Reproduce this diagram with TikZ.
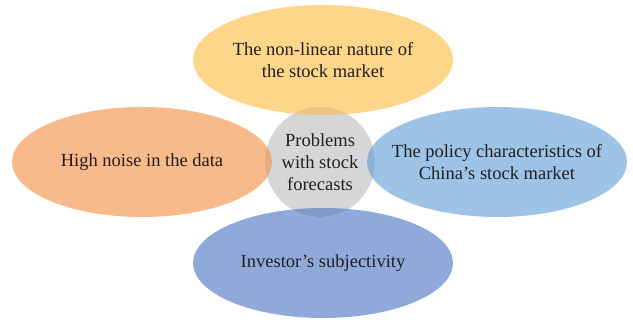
\documentclass[tikz,border=0pt]{standalone}
\usepackage{fontspec}
\setmainfont{Liberation Serif}
\usetikzlibrary{shapes.geometric}
\definecolor{yellowc}{RGB}{253,214,138}
\definecolor{orangec}{RGB}{248,186,138}
\definecolor{bluec}{RGB}{157,195,231}
\definecolor{navyc}{RGB}{143,170,218}
\definecolor{grayc}{RGB}{213,214,216}
\definecolor{txtc}{RGB}{35,31,32}
\definecolor{yellowov}{RGB}{233,198,130}
\definecolor{orangeov}{RGB}{229,172,130}
\definecolor{blueov}{RGB}{144,178,212}
\definecolor{navyov}{RGB}{130,154,202}
\tikzset{
  petal/.style={ellipse, draw=none, inner xsep=-30pt, inner ysep=-15pt, minimum width=260pt, minimum height=110pt,
    align=center, text=txtc, font=\fontsize{18.5}{22}\selectfont},
  hub/.style={circle, draw=none, fill=grayc, inner sep=0pt, minimum size=110pt,
    align=center, text=txtc, font=\fontsize{18.5}{22}\selectfont},
}
\begin{document}
\begin{tikzpicture}[x=1pt,y=-1pt]
\useasboundingbox (0,0) rectangle (633,320);
\node[petal, fill=yellowc] (top) at (323,60) {The non-linear nature of\\the stock market};
\node[petal, fill=orangec] (left) at (142,162) {High noise in the data};
\node[petal, fill=bluec] (right) at (497,162) {The policy characteristics of\\China’s stock market};
\node[petal, fill=navyc] (bottom) at (323,263) {Investor’s subjectivity};
\node[hub] (hub) at (320,162) {Problems\\with stock\\forecasts};
\begin{scope}
  \clip (hub.center) circle[radius=55pt];
  \fill[yellowov] (top.center) ellipse[x radius=130pt, y radius=55pt];
  \fill[orangeov] (left.center) ellipse[x radius=130pt, y radius=55pt];
  \fill[blueov] (right.center) ellipse[x radius=130pt, y radius=55pt];
  \fill[navyov] (bottom.center) ellipse[x radius=130pt, y radius=55pt];
\end{scope}
\end{tikzpicture}
\end{document}
